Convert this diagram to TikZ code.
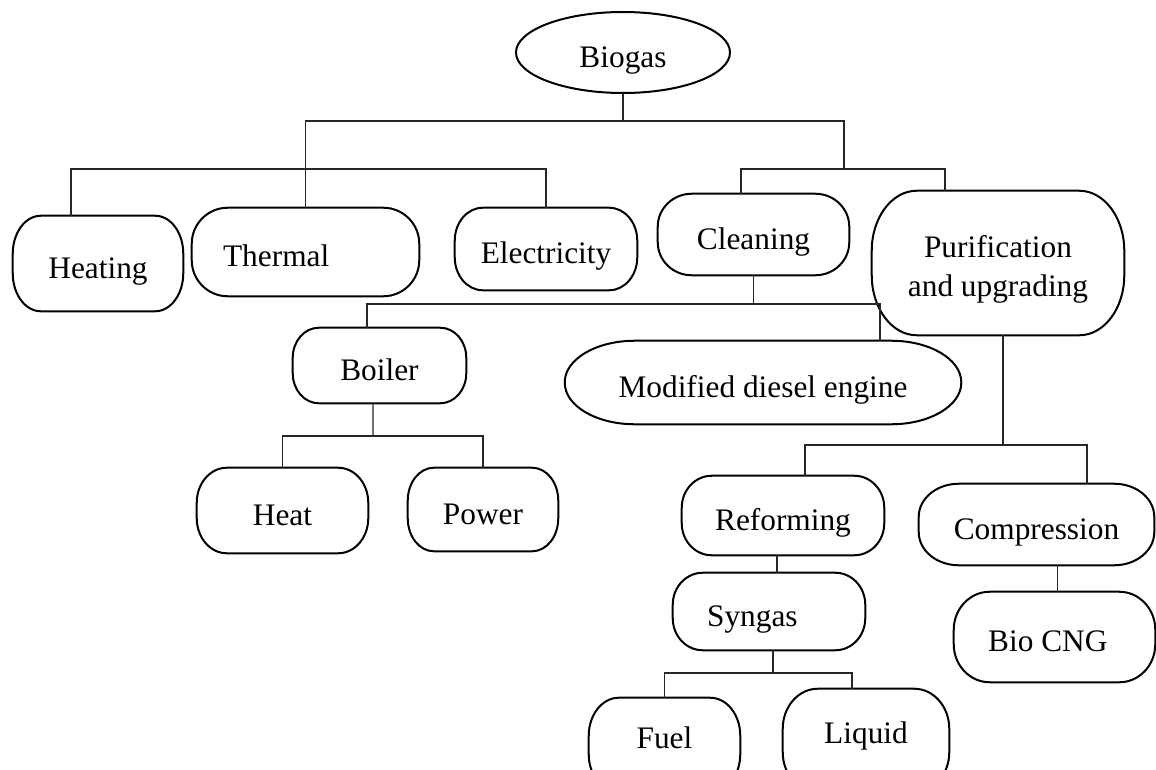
\documentclass[tikz,border=0pt]{standalone}
\usepackage{fontspec}
\setmainfont{Liberation Serif}
\usetikzlibrary{shapes.geometric}
\tikzset{
  bx/.style 2 args={draw=none, rectangle, inner sep=0pt,
    minimum width=#1*0.75pt, minimum height=#2*0.75pt,
    text height=22pt, text depth=0pt},
  ol/.style={line width=1.5pt, black},
  conn/.style={line width=0.9pt, black!85},
}
\newcommand\drawob[3]{%
  \draw[ol] ([xshift=#2*0.75pt]#1.north west) -- ([xshift=-#2*0.75pt]#1.north east)
    arc[start angle=90,end angle=0,x radius=#2*0.75pt,y radius=#3*0.75pt]
    -- ([yshift=#3*0.75pt]#1.south east)
    arc[start angle=0,end angle=-90,x radius=#2*0.75pt,y radius=#3*0.75pt]
    -- ([xshift=#2*0.75pt]#1.south west)
    arc[start angle=270,end angle=180,x radius=#2*0.75pt,y radius=#3*0.75pt]
    -- ([yshift=-#3*0.75pt]#1.north west)
    arc[start angle=180,end angle=90,x radius=#2*0.75pt,y radius=#3*0.75pt]
    -- cycle;}
\begin{document}
\begin{tikzpicture}[x=0.75pt,y=-0.75pt,font=\fontsize{23.5}{29.25}\selectfont]
\useasboundingbox (0,0) rectangle (1156,770);
\clip (0,0) rectangle (1156,770);

% nodes
\node[ellipse, draw, line width=1.5pt, inner sep=0pt,
      minimum width=214*0.75pt, minimum height=81*0.75pt,
      text height=22pt, text depth=0pt] (bio) at (623,52.5) {Biogas};
\node[bx={170}{95}] (heating) at (98,263.5) {Heating};
\node[bx={227}{88}] (thermal) at (305.5,252) {Thermal\kern44pt};
\node[bx={182}{82}] (elec) at (546,249) {Electricity};
\node[bx={191}{81}] (clean) at (753.5,234.5) {Cleaning};
\node[bx={252}{144}, align=center, text height=50pt, text depth=0pt] (purif) at (998,263) {Purification\\and upgrading};
\node[bx={173}{75}] (boiler) at (379.5,365.5) {Boiler};
\node[bx={396}{83}] (mde) at (763,382.5) {Modified diesel engine};
\node[bx={171}{85}] (heat) at (282.5,510.5) {Heat};
\node[bx={150}{83}] (power) at (483,509.5) {Power};
\node[bx={202}{79}] (reform) at (783,515.5) {Reforming};
\node[bx={235}{81}] (comp) at (1036.5,524.5) {Compression};
\node[bx={192}{77}] (syngas) at (769,611.5) {Syngas\kern25pt};
\node[bx={201}{90}] (cng) at (1054.5,637) {Bio CNG\kern10pt};
\node[bx={151}{94}, text height=16pt, text depth=11.5pt] (fuel) at (664.5,745) {Fuel};
\node[bx={166}{103}, text height=16pt, text depth=11.5pt] (liquid) at (866,740.5) {Liquid};

% outlines
\drawob{heating}{28}{38}
\drawob{thermal}{36}{36}
\drawob{elec}{28}{33}
\drawob{clean}{34}{33}
\drawob{purif}{45}{60}
\drawob{boiler}{26}{30}
\drawob{mde}{70}{41.5}
\drawob{heat}{30}{35}
\drawob{power}{26}{33}
\drawob{reform}{30}{32}
\drawob{comp}{40}{33}
\drawob{syngas}{30}{32}
\drawob{cng}{36}{38}
\drawob{fuel}{30}{38}
\drawob{liquid}{35}{40}

% bus points
\coordinate (b1) at (623,121);
\coordinate (b2) at (546,169);
\coordinate (b3) at (844,169);
\coordinate (b4) at (753.5,304);
\coordinate (b5) at (373,436);
\coordinate (b6) at (1003,445);
\coordinate (b7) at (773,673);

% connectors
\draw[conn] (bio.south) -- (b1);
\draw[conn] (thermal.north) |- (b1) -| (b3);
\draw[conn] ([xshift=-20.25pt]heating.north) |- (b2) -- (elec.north);
\draw[conn] ([xshift=-9.4pt]clean.north) |- (b3) -| ([xshift=-39.75pt]purif.north);
\draw[conn] (clean.south) -- (b4);
\draw[conn] ([xshift=-9.4pt]boiler.north) |- (b4) -| ([xshift=87.75pt]mde.north);
\draw[conn] ([xshift=-4.9pt]boiler.south) -- (b5);
\draw[conn] (heat.north) |- (b5) -| (power.north);
\draw[conn] ([xshift=3.75pt]purif.south) -- (b6);
\draw[conn] ([xshift=16.5pt]reform.north) |- (b6) -| ([xshift=37.9pt]comp.north);
\draw[conn] ([xshift=-4.5pt]reform.south) -- ([xshift=-4.5pt]reform.south |- syngas.north);
\draw[conn] ([xshift=3pt]syngas.south) -- (b7);
\draw[conn] (fuel.north) |- (b7) -| ([xshift=-10.5pt]liquid.north);
\draw[conn] ([xshift=16pt]comp.south) -- ([xshift=16pt]comp.south |- cng.north);
\end{tikzpicture}
\end{document}
